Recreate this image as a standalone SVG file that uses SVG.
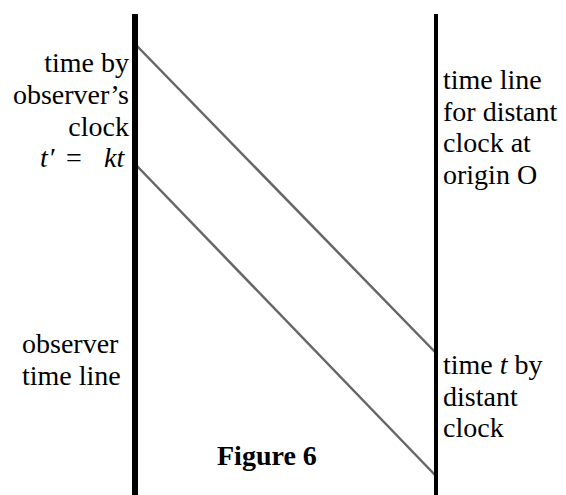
<svg xmlns="http://www.w3.org/2000/svg" width="566" height="495" viewBox="0 0 566 495">
<style>
text{font-family:"Liberation Serif","Times New Roman",serif;font-size:28px;fill:#000}
.r{text-anchor:end}
.i{font-style:italic}
.b{font-weight:bold}
.tl{stroke:#000;fill:none}
.sig{stroke:#666;stroke-width:2.5;fill:none}
</style>
<rect width="566" height="495" fill="#fff"/>
<g id="connectors">
<line class="sig" x1="137" y1="46" x2="436" y2="353"/>
<line class="sig" x1="137" y1="166" x2="436" y2="476"/>
</g>
<g id="observer">
<line class="tl" x1="135" y1="14" x2="135" y2="495" stroke-width="6"/>
<text class="r" x="129" y="72">time by</text>
<text class="r" x="129" y="104">observer’s</text>
<text class="r" x="129" y="136">clock</text>
<text y="167"><tspan class="i" x="40">t</tspan><tspan x="50">′</tspan><tspan x="66">=</tspan><tspan class="i" x="104">kt</tspan></text>
<text x="22" y="353">observer</text>
<text x="22" y="385">time line</text>
</g>
<g id="distant">
<line class="tl" x1="436" y1="14" x2="436" y2="495" stroke-width="4"/>
<text x="443" y="89">time line</text>
<text x="443" y="120.5">for distant</text>
<text x="443" y="152">clock at</text>
<text x="443" y="183.5">origin O</text>
<text x="443" y="374">time <tspan class="i">t</tspan> by</text>
<text x="443" y="405.5">distant</text>
<text x="443" y="437">clock</text>
</g>
<g id="caption">
<text class="b" x="217" y="465">Figure 6</text>
</g>
</svg>
